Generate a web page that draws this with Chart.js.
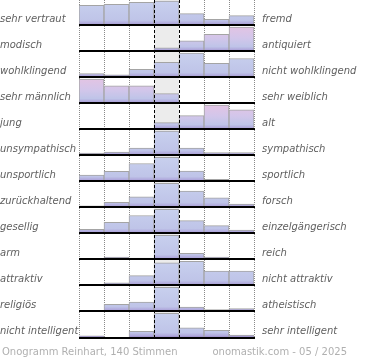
<!DOCTYPE html>
<html>
<head>
<meta charset="utf-8">
<script src="https://cdn.jsdelivr.net/npm/chart.js@4/dist/chart.umd.min.js"></script>
<style>
  html, body { margin: 0; padding: 0; background: #fff; }
  #wrap { position: relative; width: 370px; height: 360px; }
  .fuss { position: absolute; top: 346px; font: 10px "DejaVu Sans", sans-serif; line-height: 12px; color: #b0b0b0; white-space: nowrap; }
  #fussLinks { left: 2px; }
  #fussRechts { right: 23px; }
</style>
</head>
<body>
<div id="wrap">
  <canvas id="onogramm" width="370" height="360"></canvas>
  <div class="fuss" id="fussLinks">Onogramm Reinhart, 140 Stimmen</div>
  <div class="fuss" id="fussRechts">onomastik.com - 05 / 2025</div>
</div>
<script>
const linksLabels = ["sehr vertraut", "modisch", "wohlklingend", "sehr männlich", "jung", "unsympathisch",
  "unsportlich", "zurückhaltend", "gesellig", "arm", "attraktiv", "religiös", "nicht intelligent"];
const rechtsLabels = ["fremd", "antiquiert", "nicht wohlklingend", "sehr weiblich", "alt", "sympathisch",
  "sportlich", "forsch", "einzelgängerisch", "reich", "nicht attraktiv", "atheistisch", "sehr intelligent"];
const stufen = ["1", "2", "3", "4", "5", "6", "7"];

// Balkenhöhe je Stufe, in % vom höchsten Balken der Zeile
const vertraut = [83, 87, 95, 100, 48, 25, 40];
const modisch = [0, 0, 0, 14, 43, 70, 100];
const wohlklingend = [16, 10, 33, 62, 100, 58, 78];
const maennlich = [100, 72, 72, 40, 0, 0, 0];
const jung = [0, 0, 3, 28, 57, 100, 81];
const sympathisch = [10, 14, 30, 100, 30, 12, 12];
const sportlich = [26, 42, 74, 100, 43, 9, 2];
const forsch = [7, 21, 44, 100, 68, 40, 14];
const gesellig = [17, 46, 74, 100, 53, 32, 14];
const reich = [0, 10, 6, 100, 25, 10, 0];
const attraktiv = [0, 11, 41, 94, 100, 59, 59];
const religioes = [0, 30, 39, 100, 18, 8, 12];
const intelligent = [7, 0, 25, 100, 40, 30, 10];

const zeilen = [vertraut, modisch, wohlklingend, maennlich, jung, sympathisch, sportlich,
  forsch, gesellig, reich, attraktiv, religioes, intelligent];
const rosaZeilen = [1, 3, 4];

const ANZ = zeilen.length;
const VOLL = 0.93; // volle Balkenhöhe in Zeilen

function verlauf(chart, k) {
  const y = chart.scales.y;
  if (!y || !chart.chartArea) return "#c6cdec";
  const basis = ANZ - 1 - k;
  const oben = y.getPixelForValue(basis + VOLL);
  const unten = y.getPixelForValue(basis);
  const g = chart.ctx.createLinearGradient(0, oben, 0, unten);
  if (rosaZeilen.includes(k)) {
    g.addColorStop(0, "#e2c4e4");
    g.addColorStop(0.45, "#d2c6ea");
  } else {
    g.addColorStop(0, "#c8d0ee");
  }
  g.addColorStop(0.8, "#bfc4e8");
  g.addColorStop(0.92, "#b0a9dc");
  g.addColorStop(1, "#9886c6");
  return g;
}

const datasets = zeilen.map((werte, k) => {
  const basis = ANZ - 1 - k;
  return {
    label: linksLabels[k],
    data: werte.map((v) => (v > 0 ? [basis, basis + (v / 100) * VOLL] : null)),
    backgroundColor: (ctx) => verlauf(ctx.chart, k),
    borderColor: "#a4a4a4",
    borderWidth: 1,
    borderSkipped: "bottom",
    grouped: false,
    barPercentage: 1,
    categoryPercentage: 1,
  };
});

const rasterPlugin = {
  id: "raster",
  beforeDatasetsDraw(chart) {
    const { ctx, chartArea, scales } = chart;
    const x = scales.x;
    ctx.save();
    const x3 = x.getPixelForValue(2.5);
    const x4 = x.getPixelForValue(3.5);
    ctx.fillStyle = "#ececec";
    ctx.fillRect(x3, chartArea.top, x4 - x3, chartArea.bottom - chartArea.top);

    ctx.strokeStyle = "#8a8a8a";
    ctx.lineWidth = 1;
    ctx.setLineDash([1, 1]);
    [0, 1, 2, 5, 6, 7].forEach((i) => {
      const px = Math.round(x.getPixelForValue(i - 0.5)) + 0.5;
      ctx.beginPath();
      ctx.moveTo(px, chartArea.top);
      ctx.lineTo(px, chartArea.bottom);
      ctx.stroke();
    });
    ctx.restore();
  },
  afterDatasetsDraw(chart) {
    const { ctx, chartArea, scales } = chart;
    const x = scales.x;
    const y = scales.y;
    ctx.save();
    ctx.strokeStyle = "#000";
    ctx.lineWidth = 1;
    ctx.setLineDash([3, 2]);
    [3, 4].forEach((i) => {
      const px = Math.round(x.getPixelForValue(i - 0.5)) + 0.5;
      ctx.beginPath();
      ctx.moveTo(px, chartArea.top);
      ctx.lineTo(px, chartArea.bottom);
      ctx.stroke();
    });

    ctx.fillStyle = "#000";
    const links = x.getPixelForValue(-0.5);
    const rechts = x.getPixelForValue(6.5);
    for (let k = 0; k < ANZ; k++) {
      const py = Math.round(y.getPixelForValue(ANZ - 1 - k));
      ctx.fillRect(links, py - 1, rechts - links + 1, 2);
    }
    ctx.restore();
  },
};

const tickFont = { family: "DejaVu Sans", size: 10, style: "italic" };

function festeBreite(breite) {
  return (s) => {
    s.width = breite;
    s.paddingTop = 0;
    s.paddingBottom = 0;
  };
}

new Chart(document.getElementById("onogramm"), {
  type: "bar",
  data: { labels: stufen, datasets: datasets },
  options: {
    responsive: false,
    animation: false,
    layout: { padding: { top: 0, bottom: 22.5, left: 0, right: 0 } },
    plugins: { legend: { display: false }, tooltip: { enabled: false } },
    scales: {
      x: { type: "category", display: false, offset: true },
      y: {
        type: "linear",
        position: "left",
        min: 0,
        max: ANZ - 0.027,
        grid: { display: false, drawTicks: false },
        border: { display: false },
        afterFit: festeBreite(79),
        afterBuildTicks: (s) => { s.ticks = linksLabels.map((_, k) => ({ value: ANZ - 1 - k + 0.22 })); },
        ticks: {
          autoSkip: false,
          crossAlign: "far",
          padding: 0,
          color: "#606060",
          font: tickFont,
          callback: (v, i) => linksLabels[i],
        },
      },
      y2: {
        type: "linear",
        position: "right",
        min: 0,
        max: ANZ - 0.027,
        grid: { display: false, drawTicks: false },
        border: { display: false },
        afterFit: festeBreite(116),
        afterBuildTicks: (s) => { s.ticks = rechtsLabels.map((_, k) => ({ value: ANZ - 1 - k + 0.22 })); },
        ticks: {
          autoSkip: false,
          crossAlign: "near",
          padding: 8,
          color: "#606060",
          font: tickFont,
          callback: (v, i) => rechtsLabels[i],
        },
      },
    },
  },
  plugins: [rasterPlugin],
});
</script>
</body>
</html>
